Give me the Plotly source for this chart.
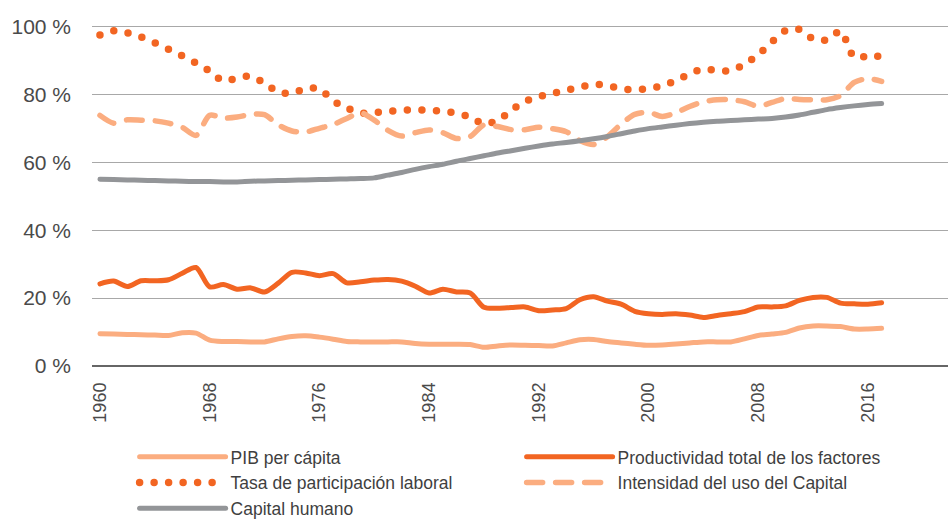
import plotly.graph_objects as go

anios = list(range(1960, 2018))

pib_per_capita = [9.5, 9.4, 9.3, 9.2, 9.1, 9.0, 9.8, 9.7, 7.6, 7.2,
                  7.2, 7.1, 7.1, 8.0, 8.7, 8.9, 8.5, 7.9, 7.2, 7.1,
                  7.1, 7.1, 7.1, 6.6, 6.4, 6.4, 6.4, 6.3, 5.5, 5.9,
                  6.2, 6.1, 6.0, 5.9, 6.8, 7.7, 7.8, 7.2, 6.8, 6.4,
                  6.1, 6.2, 6.5, 6.8, 7.1, 7.1, 7.1, 8.0, 9.0, 9.4,
                  9.9, 11.2, 11.8, 11.8, 11.6, 10.9, 10.9, 11.1]

productividad = [24.2, 25.0, 23.4, 25.1, 25.1, 25.4, 27.3, 29.0, 23.3, 24.0,
                 22.6, 23.0, 21.8, 24.4, 27.6, 27.4, 26.6, 27.2, 24.5, 24.8,
                 25.3, 25.5, 25.0, 23.5, 21.5, 22.6, 21.8, 21.5, 17.3, 17.0,
                 17.2, 17.4, 16.3, 16.5, 16.9, 19.5, 20.4, 19.1, 18.2, 16.1,
                 15.4, 15.2, 15.4, 15.0, 14.3, 14.9, 15.4, 16.0, 17.4, 17.4,
                 17.7, 19.3, 20.2, 20.2, 18.5, 18.3, 18.2, 18.6]

tasa_participacion = [97.5, 98.7, 98.1, 96.9, 95.2, 93.3, 91.3, 89.2, 86.8, 83.9,
                      84.8, 85.3, 83.3, 80.7, 80.3, 81.7, 81.6, 78.1, 76.0, 74.5,
                      74.6, 75.0, 75.3, 75.4, 75.3, 75.0, 74.4, 73.3, 71.3, 72.3,
                      75.3, 77.9, 79.3, 80.3, 81.2, 82.1, 82.9, 82.6, 81.6, 81.3,
                      81.7, 82.5, 84.1, 86.0, 87.5, 87.0, 87.0, 88.9, 91.7, 95.4,
                      98.8, 99.1, 96.3, 96.0, 98.6, 91.0, 91.2, 91.2]

intensidad_capital = [73.8, 71.5, 72.5, 72.4, 72.2, 71.5, 70.3, 67.9, 73.8, 73.0,
                      73.3, 74.1, 74.0, 71.0, 69.2, 68.9, 70.0, 71.1, 72.9, 74.6,
                      72.4, 69.4, 67.7, 68.7, 69.5, 68.7, 67.0, 67.6, 71.0, 70.5,
                      69.6, 69.6, 70.3, 69.9, 69.0, 66.4, 65.2, 67.5, 71.2, 74.1,
                      74.7, 73.5, 74.6, 76.4, 77.8, 78.4, 78.4, 77.8, 76.5, 77.6,
                      78.8, 78.5, 78.4, 78.4, 79.6, 83.5, 84.6, 83.8]

capital_humano = [55.0, 54.9, 54.8, 54.7, 54.6, 54.5, 54.4, 54.3, 54.3, 54.2,
                  54.2, 54.4, 54.5, 54.6, 54.7, 54.8, 54.9, 55.0, 55.1, 55.2,
                  55.4, 56.2, 57.0, 57.9, 58.7, 59.4, 60.3, 61.1, 61.9, 62.7,
                  63.4, 64.1, 64.8, 65.4, 65.8, 66.3, 66.9, 67.6, 68.4, 69.2,
                  69.9, 70.4, 70.9, 71.4, 71.8, 72.1, 72.3, 72.5, 72.7, 72.9,
                  73.3, 73.9, 74.7, 75.5, 76.1, 76.6, 77.0, 77.3]

ticks_y = [0, 20, 40, 60, 80, 100]
etiquetas_y = ['0 %', '20 %', '40 %', '60 %', '80 %', '100 %']
ticks_x = [1960, 1968, 1976, 1984, 1992, 2000, 2008, 2016]

naranja = '#F26522'
naranja_claro = '#FBAD80'
gris = '#939598'

series = [
    ('PIB per cápita', pib_per_capita, naranja_claro, 'solid', 5),
    ('Productividad total de los factores', productividad, naranja, 'solid', 5),
    ('Tasa de participación laboral', tasa_participacion, naranja, '0px,14.5px', 7.5),
    ('Intensidad del uso del Capital', intensidad_capital, naranja_claro, '16px,13px', 5.5),
    ('Capital humano', capital_humano, gris, 'solid', 5),
]

fig = go.Figure()
for nombre, valores, color, dash, ancho in series:
    fig.add_trace(go.Scatter(
        x=anios, y=valores, name=nombre, mode='lines',
        line=dict(color=color, width=ancho, dash=dash, shape='spline', smoothing=0.8),
    ))

fig.update_layout(
    width=948, height=521,
    margin=dict(l=92, r=0, t=23, b=155),
    plot_bgcolor='white', paper_bgcolor='white',
    font=dict(family='Liberation Sans, Arial, sans-serif', color='#4a4a4a'),
    showlegend=True,
    legend=dict(
        orientation='h', xref='container', yref='container',
        x=0.142, y=0.1574, xanchor='left', yanchor='top',
        entrywidth=286, entrywidthmode='pixels', itemwidth=86,
        font=dict(size=17.5, color='#3f3f3f'),
        traceorder='normal',
    ),
)

fig.update_xaxes(
    range=[1959.42, 2021.84],
    tickvals=ticks_x,
    tickangle=-90, tickfont=dict(size=18), ticklabelstandoff=12,
    showgrid=False, zeroline=False, showline=False, ticks='',
)
fig.update_yaxes(
    range=[0, 101], tickvals=ticks_y, ticktext=etiquetas_y,
    tickfont=dict(size=21),
    showgrid=True, gridcolor='#a8a8a8', gridwidth=1.3,
    zeroline=True, zerolinecolor='#666666', zerolinewidth=1.5,
    showline=False, ticks='', ticklabelstandoff=20,
)

estilo = ("var s=document.createElement('style');"
          "s.textContent='body{margin:0}path.js-line{stroke-linecap:round;stroke-linejoin:round}';"
          "document.head.appendChild(s);")
fig.write_html("out.html", post_script=estilo, config={'displayModeBar': False})
